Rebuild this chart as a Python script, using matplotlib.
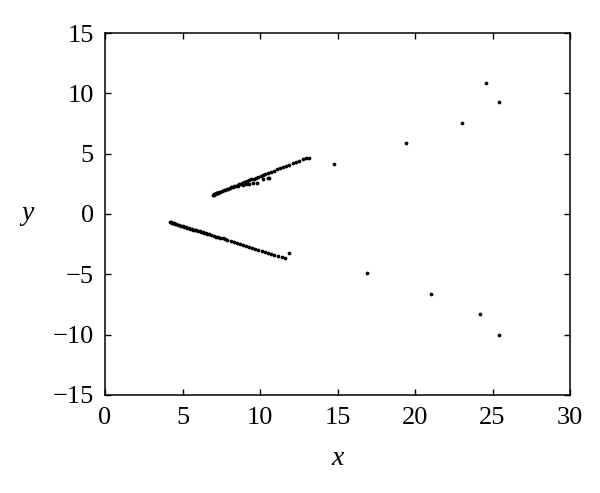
import numpy as np
import matplotlib
matplotlib.use('Agg')
import matplotlib.pyplot as plt

# upper branch
upper_x = [6.95, 7.0, 7.05, 7.1, 7.15, 7.2, 7.25, 7.3, 7.35, 7.45, 7.55, 7.65, 7.75,
           7.85, 7.95, 8.05, 8.15, 8.25, 8.35, 8.45, 8.55, 8.65, 8.75, 8.85, 8.95,
           9.05, 9.15, 9.3, 9.45, 9.6, 9.75, 9.9, 10.05, 10.2, 10.35, 10.5, 10.7,
           10.9, 11.1, 11.3, 11.5, 11.7, 11.9, 12.1, 12.3, 12.5, 12.75, 12.95, 13.15]
upper_y = [1.60, 1.61, 1.65, 1.66, 1.70, 1.71, 1.75, 1.76, 1.80, 1.85, 1.90, 1.95,
           2.00, 2.05, 2.10, 2.15, 2.20, 2.25, 2.30, 2.35, 2.40, 2.45, 2.50, 2.55,
           2.61, 2.66, 2.71, 2.78, 2.86, 2.93, 3.01, 3.09, 3.16, 3.24, 3.31, 3.39,
           3.49, 3.59, 3.69, 3.79, 3.89, 3.99, 4.10, 4.20, 4.30, 4.40, 4.52, 4.60,
           4.65]

# small side cluster under the upper branch
side_x = [8.6, 8.9, 9.1, 9.3, 9.57, 9.79, 10.2, 10.5, 10.6]
side_y = [2.30, 2.40, 2.48, 2.52, 2.53, 2.58, 2.86, 2.94, 3.00]

# lower branch
lower_x = [4.2, 4.25, 4.3, 4.35, 4.4, 4.45, 4.5, 4.6, 4.7, 4.8, 4.9, 5.0, 5.1, 5.2,
           5.3, 5.4, 5.5, 5.6, 5.7, 5.8, 5.9, 6.0, 6.1, 6.2, 6.3, 6.4, 6.5, 6.6,
           6.7, 6.85, 7.0, 7.15, 7.3, 7.45, 7.6, 7.75, 7.9, 8.1, 8.3, 8.5, 8.7,
           8.9, 9.1, 9.3, 9.5, 9.7, 9.9, 10.1, 10.3, 10.5, 10.7, 10.9, 11.15,
           11.4, 11.6]
lower_y = [-0.69, -0.70, -0.73, -0.74, -0.77, -0.78, -0.81, -0.85, -0.89, -0.93,
           -0.97, -1.01, -1.05, -1.09, -1.13, -1.17, -1.21, -1.25, -1.29, -1.33,
           -1.37, -1.41, -1.45, -1.49, -1.53, -1.57, -1.61, -1.65, -1.69, -1.75,
           -1.81, -1.87, -1.93, -1.97, -2.03, -2.11, -2.17, -2.25, -2.33, -2.41,
           -2.49, -2.57, -2.65, -2.73, -2.81, -2.89, -2.97, -3.05, -3.13, -3.21,
           -3.29, -3.37, -3.47, -3.57, -3.65]

# isolated points
iso_x = [11.9, 14.8, 16.9, 19.4, 21.0, 23.0, 24.2, 24.6, 25.4, 25.4]
iso_y = [-3.25, 4.15, -4.92, 5.85, -6.6, 7.53, -8.27, 10.86, 9.26, -10.0]

plt.rcParams['font.family'] = ['Liberation Serif', 'DejaVu Serif']
plt.rcParams['font.size'] = 19

fig = plt.figure(figsize=(6, 4.93), dpi=100)
ax = fig.add_axes([0.175, 0.199, 0.775, 0.734])

for xs, ys in [(upper_x, upper_y), (side_x, side_y), (lower_x, lower_y), (iso_x, iso_y)]:
    ax.plot(xs, ys, 'o', color='black', ms=2.7, mew=0)

ax.set_xlim(0, 30)
ax.set_ylim(-15, 15)
ax.set_xticks(np.arange(0, 31, 5))
ax.set_yticks(np.arange(-15, 16, 5))
ax.tick_params(direction='in', length=4, width=1, top=True, right=True)
ax.tick_params(axis='y', pad=8)
ax.tick_params(axis='x', pad=9)
for s in ax.spines.values():
    s.set_linewidth(1.1)

ax.set_xlabel('x', style='italic', fontsize=20, labelpad=12)
ax.set_ylabel('y', style='italic', fontsize=20, rotation=0, labelpad=18, va='center')

fig.savefig('out.png', dpi=100)
